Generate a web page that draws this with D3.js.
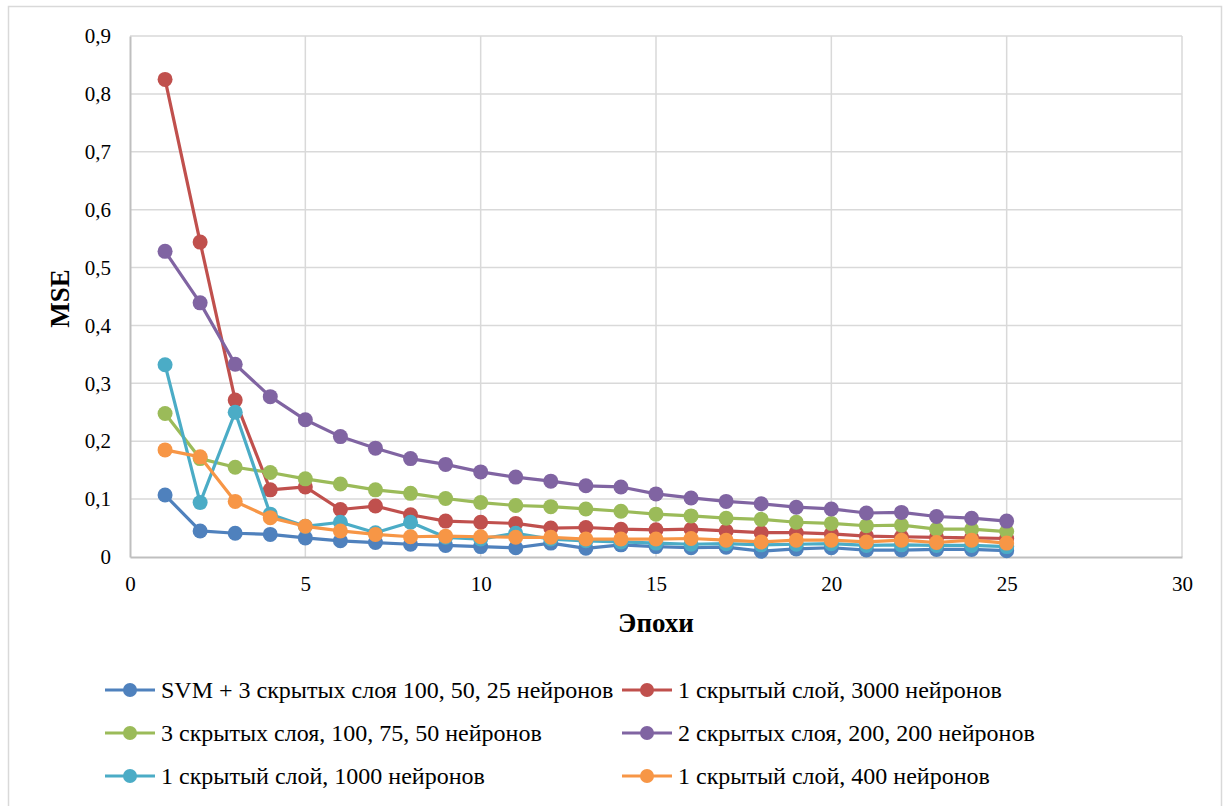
<!DOCTYPE html>
<html><head><meta charset="utf-8">
<script src="https://cdn.jsdelivr.net/npm/d3@7"></script>
<style>body{margin:0;background:#fff}svg{display:block}</style>
</head><body><svg id="c" width="1225" height="806"></svg>
<script>
const epochs = d3.range(1, 26);
const seriesNames = [
  "SVM + 3 скрытых слоя 100, 50, 25 нейронов",
  "1 скрытый слой, 3000 нейронов",
  "3 скрытых слоя, 100, 75, 50 нейронов",
  "2 скрытых слоя, 200, 200 нейронов",
  "1 скрытый слой, 1000 нейронов",
  "1 скрытый слой, 400 нейронов"
];
const svmValues = [0.107,0.045,0.041,0.039,0.033,0.028,0.025,0.022,0.020,0.018,0.016,0.024,0.015,0.021,0.018,0.016,0.017,0.010,0.014,0.016,0.012,0.012,0.013,0.013,0.011];
const h3000Values = [0.825,0.544,0.271,0.116,0.121,0.082,0.088,0.073,0.062,0.060,0.058,0.050,0.051,0.048,0.047,0.048,0.045,0.042,0.042,0.040,0.036,0.035,0.034,0.033,0.032];
const h3Values = [0.248,0.170,0.155,0.146,0.135,0.126,0.116,0.110,0.101,0.094,0.089,0.087,0.083,0.079,0.074,0.071,0.067,0.065,0.060,0.058,0.054,0.055,0.048,0.048,0.044];
const h2Values = [0.528,0.439,0.333,0.277,0.237,0.208,0.188,0.170,0.160,0.147,0.138,0.131,0.123,0.121,0.109,0.102,0.096,0.092,0.086,0.083,0.076,0.077,0.070,0.067,0.062];
const h1000Values = [0.332,0.094,0.250,0.074,0.053,0.060,0.042,0.060,0.034,0.031,0.041,0.031,0.028,0.026,0.024,0.022,0.023,0.021,0.022,0.023,0.020,0.021,0.020,0.020,0.018];
const h400Values = [0.185,0.173,0.096,0.068,0.053,0.045,0.039,0.035,0.036,0.035,0.034,0.034,0.031,0.031,0.031,0.032,0.029,0.026,0.029,0.029,0.026,0.029,0.025,0.029,0.024];
const allValues = [svmValues,h3000Values,h3Values,h2Values,h1000Values,h400Values];
const colors = ["#4F81BD","#C0504D","#9BBB59","#8064A2","#4BACC6","#F79646"];
const xTicks = [0,5,10,15,20,25,30];
const yTicks = [0,0.1,0.2,0.3,0.4,0.5,0.6,0.7,0.8,0.9];
const xTitle = "Эпохи", yTitle = "MSE";

const FONT = "'Liberation Serif', 'Times New Roman', Tinos, 'DejaVu Serif', serif";
const svg = d3.select("#c");
svg.append("rect").attr("x",8.5).attr("y",6.5).attr("width",1213).attr("height",810)
  .attr("fill","#fff").attr("stroke","#D9D9D9").attr("stroke-width",1.5);

const L=130, R=1182, T=36, B=557;
const x = d3.scaleLinear().domain([0,30]).range([L,R]);
const y = d3.scaleLinear().domain([0,0.9]).range([B,T]);
const fmt = d => d===0 ? "0" : d3.format(".1f")(d).replace(".",",");

const g = svg.append("g");
g.selectAll(".gy").data(yTicks.filter(d=>d>0)).join("line")
  .attr("x1",L).attr("x2",R).attr("y1",d=>y(d)).attr("y2",d=>y(d))
  .attr("stroke","#D9D9D9").attr("stroke-width",1.5);
g.selectAll(".gx").data(xTicks.filter(d=>d>0)).join("line")
  .attr("x1",d=>x(d)).attr("x2",d=>x(d)).attr("y1",T).attr("y2",B)
  .attr("stroke","#D9D9D9").attr("stroke-width",1.5);

const ax = svg.append("g").attr("transform",`translate(0,${B})`).call(d3.axisBottom(x).tickValues(xTicks).tickSize(0).tickPadding(19).tickFormat(d=>d));
ax.select(".domain").attr("stroke","#BFBFBF").attr("stroke-width",2);
ax.selectAll("text").style("font-family",FONT).style("font-size","21px").attr("fill","#000");
const ay = svg.append("g").attr("transform",`translate(${L},0)`).call(d3.axisLeft(y).tickValues(yTicks).tickSize(0).tickPadding(19).tickFormat(fmt));
ay.select(".domain").attr("stroke","#BFBFBF").attr("stroke-width",2);
ay.selectAll("text").style("font-family",FONT).style("font-size","21px").attr("fill","#000");

svg.append("text").attr("x",(L+R)/2).attr("y",632).attr("text-anchor","middle")
  .style("font-family",FONT).style("font-size","27px").style("font-weight","bold").text(xTitle);
svg.append("text").attr("transform",`translate(69,${(T+B)/2 + 2}) rotate(-90)`).attr("text-anchor","middle")
  .style("font-family",FONT).style("font-size","27px").style("font-weight","bold").text(yTitle);

const line = d3.line().x((d,i)=>x(epochs[i])).y(d=>y(d));
allValues.forEach((vals,k)=>{
  const sg = svg.append("g");
  sg.append("path").datum(vals).attr("d",line).attr("fill","none")
    .attr("stroke",colors[k]).attr("stroke-width",3.2).attr("stroke-linejoin","round");
  sg.selectAll("circle").data(vals).join("circle")
    .attr("cx",(d,i)=>x(epochs[i])).attr("cy",d=>y(d)).attr("r",7.5).attr("fill",colors[k]);
});

const legX = [105, 622], legY = [690, 733, 776];
seriesNames.forEach((name,k)=>{
  const lx = legX[k%2], ly = legY[Math.floor(k/2)];
  const lg = svg.append("g");
  lg.append("line").attr("x1",lx).attr("x2",lx+50).attr("y1",ly).attr("y2",ly)
    .attr("stroke",colors[k]).attr("stroke-width",3.2);
  lg.append("circle").attr("cx",lx+25).attr("cy",ly).attr("r",7).attr("fill",colors[k]);
  lg.append("text").attr("x",lx+56).attr("y",ly+8).style("font-family",FONT).style("font-size","24px").text(name);
});
</script></body></html>
